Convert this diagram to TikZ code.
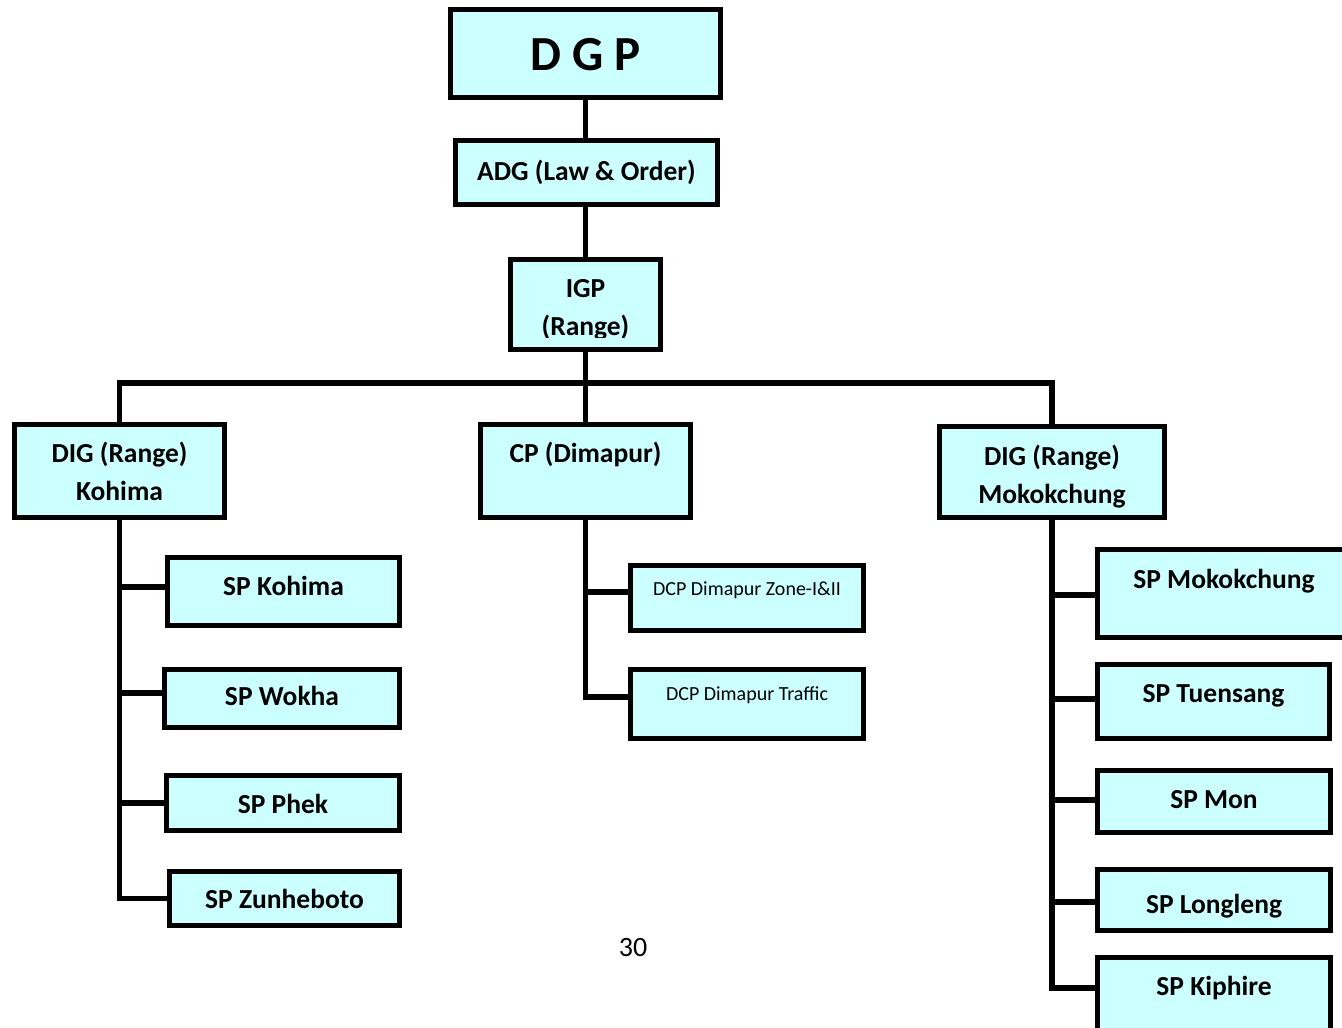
\documentclass[tikz,border=0pt]{standalone}
\usepackage{fontspec}
\setmainfont{Carlito}
\definecolor{cyanbg}{HTML}{CCFFFF}
\tikzset{
  box/.style={draw=black, line width=5pt, fill=cyanbg, inner sep=0pt, outer sep=0pt},
  lbl/.style={font=\bfseries\fontsize{27.5}{33}\selectfont, inner sep=0pt, anchor=base},
  dcp/.style={font=\fontsize{20}{24}\selectfont, inner sep=0pt, anchor=base},
  conn/.style={line width=5.5pt, line join=miter}
}
\begin{document}
\begin{tikzpicture}[x=1pt,y=-1pt]
\useasboundingbox (0,0) rectangle (1342,1028);
\clip (0,0) rectangle (1342,1028);
% boxes
\node[box, minimum width=270, minimum height=88] (dgp) at (585.5,53.5) {};
\node[box, minimum width=262, minimum height=64] (adg) at (586.5,172.5) {};
\node[box, minimum width=150, minimum height=90] (igp) at (585.5,304.5) {};
\node[box, minimum width=210, minimum height=93] (dig1) at (119.5,471) {};
\node[box, minimum width=210, minimum height=93] (cp) at (585.5,471) {};
\node[box, minimum width=225, minimum height=91] (dig2) at (1052,472) {};
\node[box, minimum width=232, minimum height=68] (spk) at (283.5,591.5) {};
\node[box, minimum width=235, minimum height=58] (spw) at (282,698.5) {};
\node[box, minimum width=233, minimum height=55] (spp) at (283,803) {};
\node[box, minimum width=230, minimum height=54] (spz) at (284.5,898.5) {};
\node[box, minimum width=233, minimum height=65] (dcpz) at (747,598) {};
\node[box, minimum width=233, minimum height=69] (dcpt) at (747,704) {};
\node[box, minimum width=252, minimum height=88] (spm) at (1223.5,593.5) {};
\node[box, minimum width=232, minimum height=74] (spt) at (1213.5,701.5) {};
\node[box, minimum width=233, minimum height=62] (spn) at (1214,801.5) {};
\node[box, minimum width=233, minimum height=61] (spl) at (1214,900) {};
\node[box, minimum width=233, minimum height=80] (spx) at (1214,997.5) {};
% connectors
\coordinate (bus) at (585.5,383);
\draw[conn] (dgp.south) -- (dgp.south |- adg.north);
\draw[conn] (adg.south -| igp.north) -- (igp.north);
\draw[conn] (igp.south) -- (cp.north);
\draw[conn] (dig1.north) -- (dig1.north |- bus) -- (dig2.north |- bus) -- (dig2.north);
\draw[conn] (dig1.south) |- (spz.west);
\draw[conn] ([yshift=4.5pt]spk.west) -- ([yshift=4.5pt]spk.west -| dig1.south);
\draw[conn] ([yshift=5.5pt]spw.west) -- ([yshift=5.5pt]spw.west -| dig1.south);
\draw[conn] (spp.west) -- (spp.west -| dig1.south);
\draw[conn] (cp.south) |- ([yshift=7pt]dcpt.west);
\draw[conn] ([yshift=6pt]dcpz.west) -- ([yshift=6pt]dcpz.west -| cp.south);
\draw[conn] (dig2.south) |- ([yshift=9.5pt]spx.west);
\draw[conn] ([yshift=-1.5pt]spm.west) -- ([yshift=-1.5pt]spm.west -| dig2.south);
\draw[conn] ([yshift=2.5pt]spt.west) -- ([yshift=2.5pt]spt.west -| dig2.south);
\draw[conn] ([yshift=1.5pt]spn.west) -- ([yshift=1.5pt]spn.west -| dig2.south);
\draw[conn] ([yshift=-2pt]spl.west) -- ([yshift=-2pt]spl.west -| dig2.south);
% texts
\node[lbl, font=\bfseries\fontsize{49}{56}\selectfont] (tdgp) at (585.5,70) {D G P};
\node[lbl] (tadg) at (586.5,180) {ADG (Law \& Order)};
\begin{scope}
\clip (500,250) rectangle (670,337);
\node[lbl] (tigp1) at (585.5,297) {IGP};
\node[lbl] (tigp2) at (585.5,335) {(Range)};
\end{scope}
\node[lbl] (tdig1a) at (119.5,462) {DIG (Range)};
\node[lbl] (tdig1b) at (119.5,500) {Kohima};
\node[lbl] (tcp) at (585.5,462) {CP (Dimapur)};
\node[lbl] (tdig2a) at (1052,465) {DIG (Range)};
\node[lbl] (tdig2b) at (1052,503) {Mokokchung};
\node[lbl] (tspk) at (283.5,595) {SP Kohima};
\node[lbl] (tspw) at (282,705) {SP Wokha};
\node[lbl] (tspp) at (283,813) {SP Phek};
\node[lbl] (tspz) at (284.5,908) {SP Zunheboto};
\node[dcp] (tdcpz) at (747,595) {DCP Dimapur Zone-I\&II};
\node[dcp] (tdcpt) at (747,700) {DCP Dimapur Traffic};
\node[lbl] (tspm) at (1224,588) {SP Mokokchung};
\node[lbl] (tspt) at (1213.5,702) {SP Tuensang};
\node[lbl] (tspn) at (1214,808) {SP Mon};
\node[lbl] (tspl) at (1214,913) {SP Longleng};
\node[lbl] (tspx) at (1214,995) {SP Kiphire};
\node[dcp, font=\fontsize{28}{32}\selectfont] (page) at (633,956) {30};
\end{tikzpicture}
\end{document}
